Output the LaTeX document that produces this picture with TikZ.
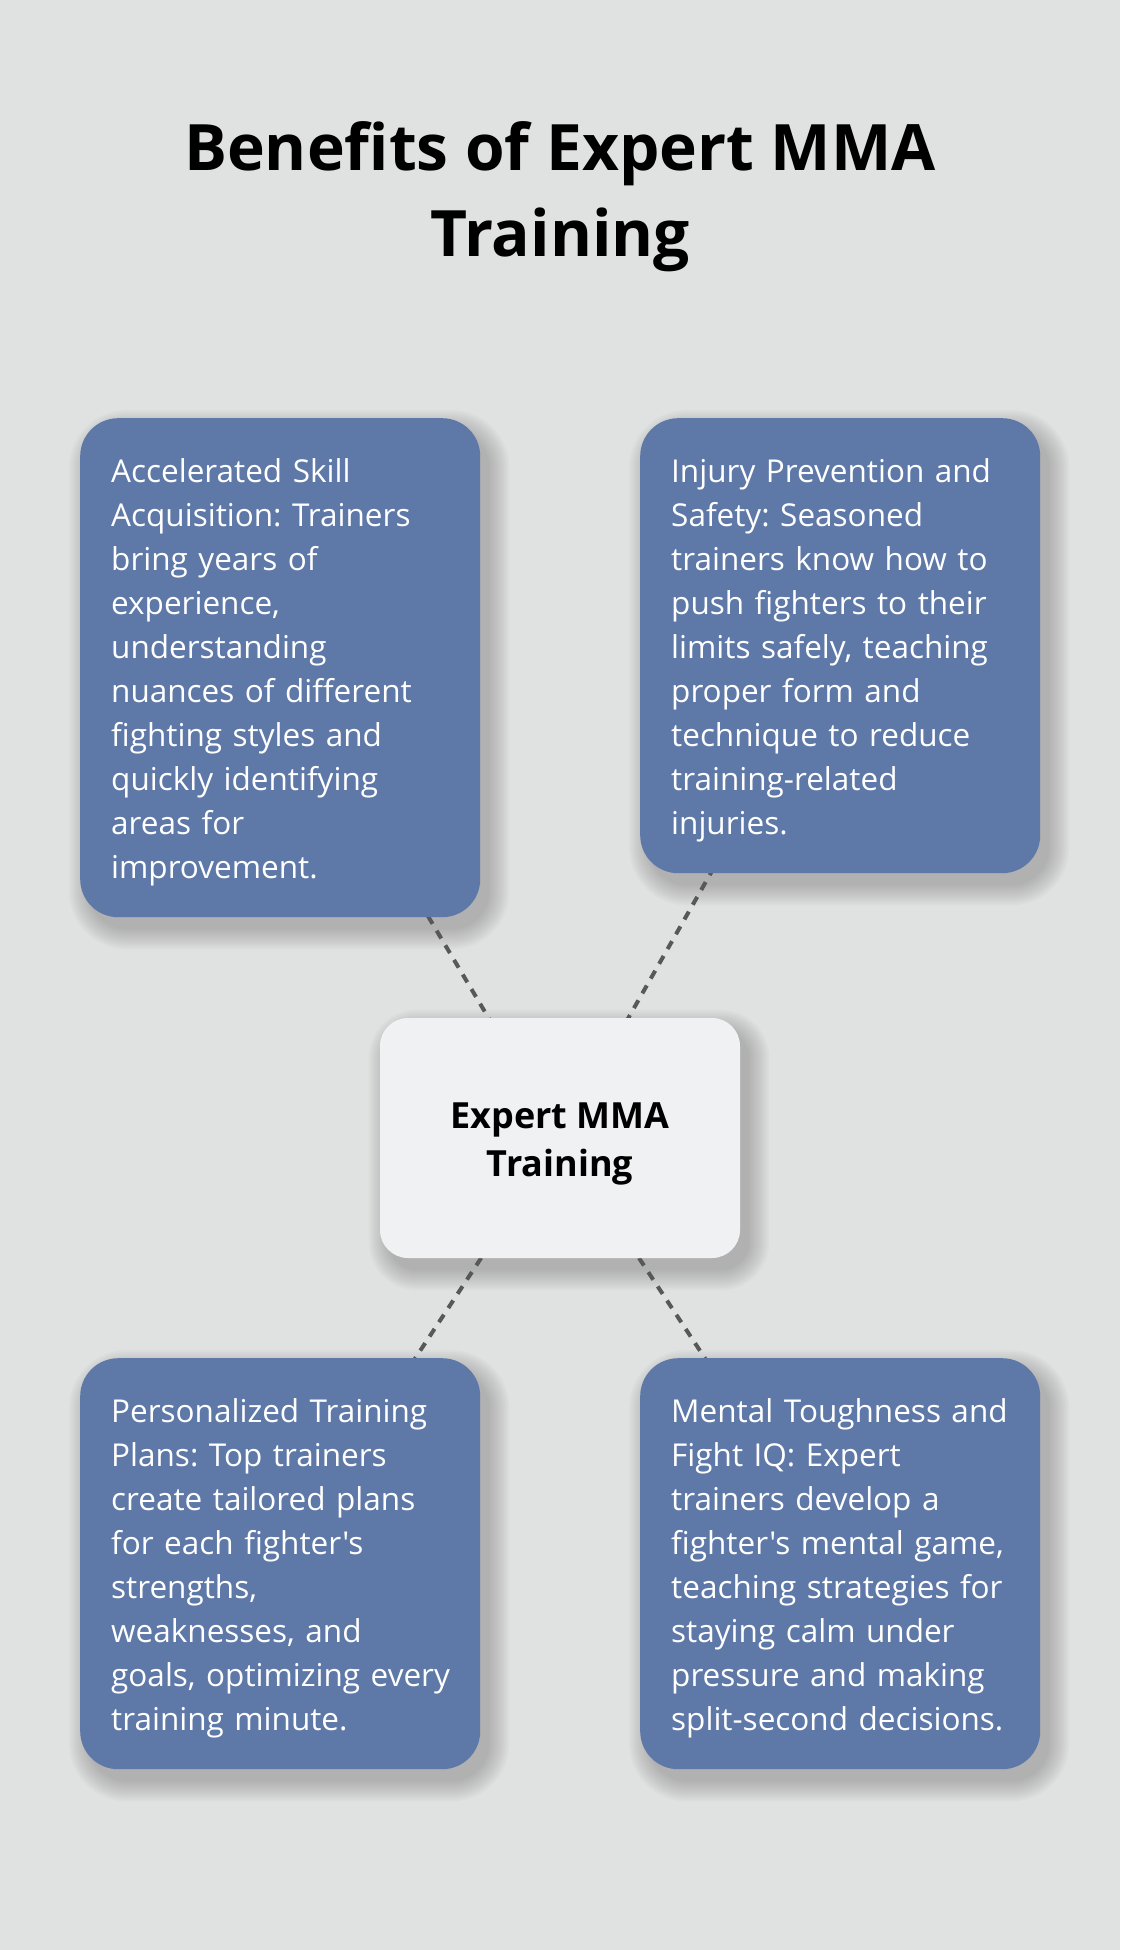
\documentclass[tikz,border=0pt]{standalone}
\usepackage{fontspec}
\setmainfont{Open Sans}[Ligatures=TeXOff]
\frenchspacing
\pgfdeclarelayer{bglayer}
\pgfdeclarelayer{shadowlayer}
\pgfdeclarelayer{linelayer}
\pgfsetlayers{bglayer,shadowlayer,linelayer,main}
\definecolor{bgc}{RGB}{224,226,225}
\definecolor{boxblue}{RGB}{94,120,168}
\definecolor{centerc}{RGB}{240,241,243}
\definecolor{dashc}{RGB}{88,88,88}
\newcommand{\oneline}[1]{\mbox{#1}}
\newcommand{\topstrut}{\rule{0pt}{64pt}}
\newcommand{\botstrut}{\rule[-39pt]{0pt}{39pt}}
\tikzset{
  infobox/.style={anchor=north west, fill=boxblue, text=white, rounded corners=38pt,
    inner xsep=31pt, inner ysep=0pt, text width=338pt, align=left,
    font=\fontsize{31.5}{44}\selectfont\frenchspacing},
  hubbox/.style={fill=centerc, rounded corners=28pt, minimum width=360pt,
    minimum height=240pt, inner sep=0pt, align=center, text=black,
    font=\bfseries\fontsize{36}{48}\selectfont},
  titletext/.style={anchor=north, inner sep=0pt, align=center, text=black,
    font=\bfseries\fontsize{64}{86}\selectfont},
  link/.style={draw=dashc, line width=4pt, dash pattern=on 9pt off 8pt},
}
\begin{document}
\begin{tikzpicture}[x=1pt,y=-1pt]
\begin{pgfonlayer}{bglayer}
\fill[bgc] (0,0) rectangle (1120,1950);
\end{pgfonlayer}
\useasboundingbox (0,0) rectangle (1120,1950);

\node[titletext] (title) at (560,120) {\rule{0pt}{50pt}Benefits of Expert MMA\\Training\rule[-20pt]{0pt}{20pt}};

\node[infobox] (acc) at (80,418) {\topstrut\oneline{Accelerated Skill}\\
\oneline{Acquisition: Trainers}\\
\oneline{bring years of}\\
\oneline{experience,}\\
\oneline{understanding}\\
\oneline{nuances of different}\\
\oneline{fighting styles and}\\
\oneline{quickly identifying}\\
\oneline{areas for}\\
\oneline{improvement.}\botstrut};

\node[infobox] (inj) at (640,418) {\topstrut\oneline{Injury Prevention and}\\
\oneline{Safety: Seasoned}\\
\oneline{trainers know how to}\\
\oneline{push fighters to their}\\
\oneline{limits safely, teaching}\\
\oneline{proper form and}\\
\oneline{technique to reduce}\\
\oneline{training-related}\\
\oneline{injuries.}\botstrut};

\node[infobox] (per) at (80,1358) {\topstrut\oneline{Personalized Training}\\
\oneline{Plans: Top trainers}\\
\oneline{create tailored plans}\\
\oneline{for each fighter's}\\
\oneline{strengths,}\\
\oneline{weaknesses, and}\\
\oneline{goals, optimizing every}\\
\oneline{training minute.}\botstrut};

\node[infobox] (men) at (640,1358) {\topstrut\oneline{Mental Toughness and}\\
\oneline{Fight IQ: Expert}\\
\oneline{trainers develop a}\\
\oneline{fighter's mental game,}\\
\oneline{teaching strategies for}\\
\oneline{staying calm under}\\
\oneline{pressure and making}\\
\oneline{split-second decisions.}\botstrut};

\node[hubbox] (hub) at (560,1138) {\rule{0pt}{38pt}Expert MMA\\Training\rule[-10pt]{0pt}{10pt}};

\begin{pgfonlayer}{shadowlayer}
\foreach \n/\r in {acc/38,inj/38,per/38,men/38,hub/28}{
  \foreach \e in {0,2,...,20}{
    \pgfmathsetmacro\rr{\r+\e}
    \fill[black,opacity=0.02,rounded corners=\rr pt]
      ([shift={(9-\e,12-\e)}]\n.north west) rectangle ([shift={(9+\e,12+\e)}]\n.south east);
  }
}
\end{pgfonlayer}

\begin{pgfonlayer}{linelayer}
\draw[link] (acc.center) -- (hub.center);
\draw[link] (inj.center) -- (hub.center);
\draw[link] (per.center) -- (hub.center);
\draw[link] (men.center) -- (hub.center);
\end{pgfonlayer}
\end{tikzpicture}
\end{document}
